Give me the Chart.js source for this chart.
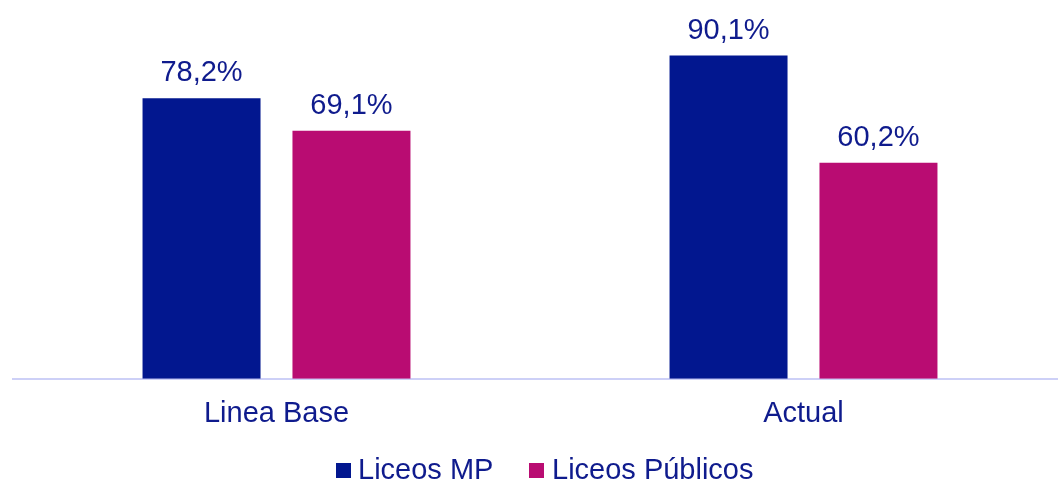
<!DOCTYPE html>
<html>
<head>
<meta charset="utf-8">
<script src="https://cdn.jsdelivr.net/npm/chart.js@4/dist/chart.umd.min.js"></script>
<style>
  html, body { margin: 0; padding: 0; background: #fff; overflow: hidden; }
  #wrap { position: relative; width: 1058px; height: 483px; overflow: hidden; }
  #chart { position: absolute; left: 0; top: 0; }
  .leg { position: absolute; font: 29px "Liberation Sans", Arial, sans-serif; color: #0f1b8d; line-height: 34px; white-space: nowrap; }
  .box { position: absolute; width: 15px; height: 15px; }
</style>
</head>
<body>
<div id="wrap">
  <canvas id="chart" width="1070" height="483"></canvas>
  <span class="box" style="left:336px; top:463px; background:#02178f"></span>
  <span class="leg" style="left:358px; top:452px">Liceos MP</span>
  <span class="box" style="left:529px; top:463px; background:#b90c72"></span>
  <span class="leg" style="left:552px; top:452px">Liceos Públicos</span>
</div>
<script>
const categories = ['Linea Base', 'Actual'];
const seriesNames = ['Liceos MP', 'Liceos Públicos'];
const liceosMP = [78.2, 90.1];
const liceosPublicos = [69.1, 60.2];

const textColor = '#0f1b8d';
const font = '"Liberation Sans", Arial, sans-serif';

// value labels above each bar, comma decimal
const barLabels = {
  id: 'barLabels',
  afterDatasetsDraw(chart) {
    const ctx = chart.ctx;
    ctx.save();
    ctx.font = '29px ' + font;
    ctx.fillStyle = textColor;
    ctx.textAlign = 'center';
    ctx.textBaseline = 'alphabetic';
    chart.data.datasets.forEach((ds, i) => {
      chart.getDatasetMeta(i).data.forEach((bar, j) => {
        const txt = ds.data[j].toFixed(1).replace('.', ',') + '%';
        ctx.fillText(txt, bar.x, bar.y - 17);
      });
    });
    ctx.restore();
  }
};

new Chart(document.getElementById('chart'), {
  type: 'bar',
  data: {
    labels: categories,
    datasets: [
      { label: seriesNames[0], data: liceosMP, backgroundColor: '#02178f' },
      { label: seriesNames[1], data: liceosPublicos, backgroundColor: '#b90c72' },
    ],
  },
  options: {
    responsive: false,
    animation: false,
    devicePixelRatio: 1,
    categoryPercentage: 0.569,
    barPercentage: 0.787,
    layout: { padding: { top: 20, left: 13, right: 3, bottom: 0 } },
    plugins: {
      legend: { display: false },
      tooltip: { enabled: false },
    },
    scales: {
      x: {
        grid: { display: false, drawTicks: false },
        border: { display: true, color: '#cdd0f7', width: 2 },
        ticks: { color: textColor, font: { family: font, size: 29 }, padding: 18 },
        afterFit(scale) { scale.height = 104.3; },
      },
      y: {
        display: false,
        min: 0,
        max: 100,
      },
    },
  },
  plugins: [barLabels],
});
</script>
</body>
</html>
